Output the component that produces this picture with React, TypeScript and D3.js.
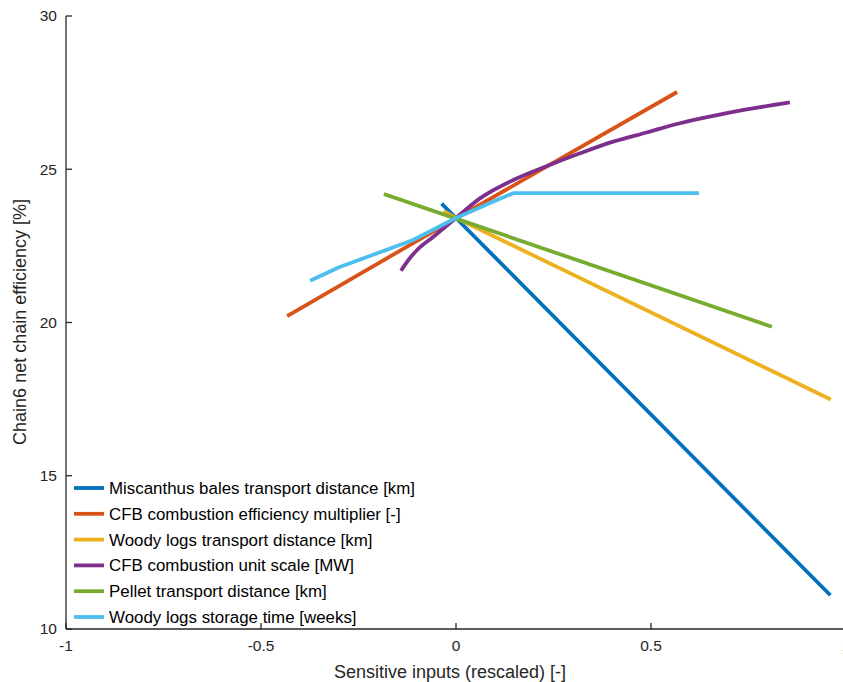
import React from "react";
import * as d3 from "d3";

const seriesNames = [
  "Miscanthus bales transport distance [km]",
  "CFB combustion efficiency multiplier [-]",
  "Woody logs transport distance [km]",
  "CFB combustion unit scale [MW]",
  "Pellet transport distance [km]",
  "Woody logs storage time [weeks]",
];
const colors = ["#0072BD", "#D95319", "#EDB120", "#7E2F8E", "#77AC30", "#4DBEEE"];

const miscanthus: [number, number][] = [[-0.037, 23.88], [0, 23.41], [0.96, 11.1]];
const cfbEfficiency: [number, number][] = [[-0.433, 20.21], [0, 23.4], [0.567, 27.52]];
const woodyTransport: [number, number][] = [[-0.032, 23.63], [0, 23.41], [0.961, 17.49]];
const cfbScale: [number, number][] = [
  [-0.141, 21.69], [-0.122, 22.04], [-0.101, 22.35], [-0.058, 22.8], [0, 23.41],
  [0.0615, 24.05], [0.147, 24.65], [0.232, 25.1], [0.318, 25.52], [0.403, 25.9],
  [0.489, 26.2], [0.574, 26.5], [0.66, 26.74], [0.745, 26.95], [0.856, 27.18],
];
const pellet: [number, number][] = [[-0.185, 24.19], [0, 23.39], [0.81, 19.86]];
const storage: [number, number][] = [
  [-0.374, 21.36], [-0.3, 21.8], [-0.11, 22.69], [0, 23.41], [0.096, 23.95], [0.147, 24.22], [0.623, 24.22],
];
const allSeries = [miscanthus, cfbEfficiency, woodyTransport, cfbScale, pellet, storage];

const xTicks = [-1, -0.5, 0, 0.5, 1];
const xTickLabels = ["-1", "-0.5", "0", "0.5", "1"];
const yTicks = [10, 15, 20, 25, 30];

const W = 843;
const H = 682;
const left = 66, right = 846, top = 16, bottom = 629;

export default function App() {
  const x = d3.scaleLinear().domain([-1, 1]).range([left, right]);
  const y = d3.scaleLinear().domain([10, 30]).range([bottom, top]);
  const line = d3.line<[number, number]>().x(d => x(d[0])).y(d => y(d[1]));
  const smooth = d3.line<[number, number]>().x(d => x(d[0])).y(d => y(d[1])).curve(d3.curveMonotoneX);
  const axisColor = "#262626";
  const font = "Liberation Sans, Arial, Helvetica, sans-serif";
  const legendY0 = 488;
  const legendDy = 25.8;
  return (
    <svg width={W} height={H} style={{ position: "absolute", left: 0, top: 0, background: "#fff" }}
      fontFamily={font}>
      <rect x={0} y={0} width={W} height={H} fill="#fff" />
      {allSeries.map((s, i) => (
        <path key={i} d={(i === 3 ? smooth(s) : line(s)) || ""} fill="none" stroke={colors[i]} strokeWidth={3.8}
          strokeLinejoin="round" />
      ))}
      {/* axes */}
      <line x1={left} x2={W + 10} y1={bottom} y2={bottom} stroke={axisColor} strokeWidth={1.3} />
      <line x1={left} x2={left} y1={top} y2={bottom} stroke={axisColor} strokeWidth={1.3} />
      {yTicks.map(t => (
        <g key={t}>
          <line x1={left} x2={left + 6} y1={y(t)} y2={y(t)} stroke={axisColor} strokeWidth={1.3} />
          <text x={left - 9} y={y(t)} dy="0.35em" textAnchor="end" fontSize={15.5} fill={axisColor}>{t}</text>
        </g>
      ))}
      {xTicks.map((t, i) => (
        <g key={t}>
          <line x1={x(t)} x2={x(t)} y1={bottom} y2={bottom - 6} stroke={axisColor} strokeWidth={1.3} />
          <text x={x(t)} y={bottom + 22} textAnchor="middle" fontSize={15.5} fill={axisColor}>{xTickLabels[i]}</text>
        </g>
      ))}
      <text x={450} y={678} textAnchor="middle" fontSize={18} fill={axisColor}>Sensitive inputs (rescaled) [-]</text>
      <text transform={`translate(26, 322) rotate(-90)`} textAnchor="middle" fontSize={18} fill={axisColor}>
        Chain6 net chain efficiency [%]
      </text>
      {/* legend */}
      {seriesNames.map((n, i) => (
        <g key={n}>
          <line x1={74} x2={104} y1={legendY0 + i * legendDy} y2={legendY0 + i * legendDy}
            stroke={colors[i]} strokeWidth={3.8} />
          <text x={109} y={legendY0 + i * legendDy} dy="0.35em" fontSize={16.9} fill="#000">{n}</text>
        </g>
      ))}
    </svg>
  );
}
